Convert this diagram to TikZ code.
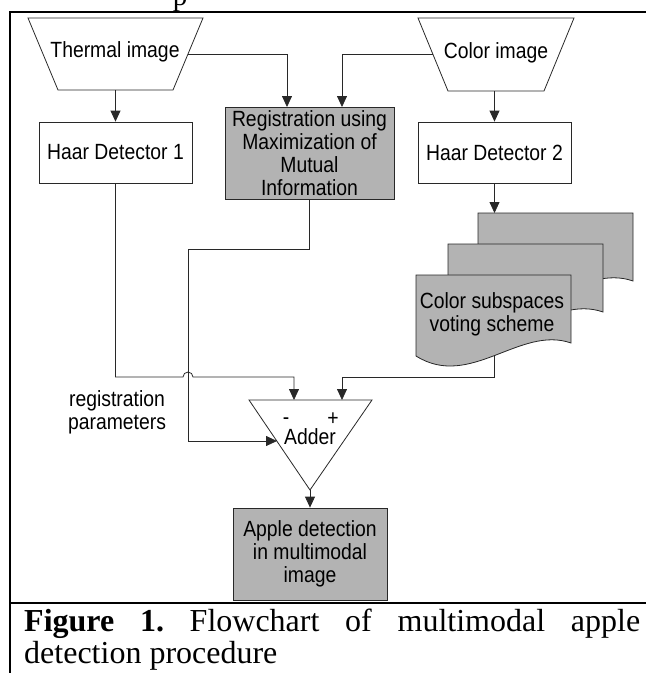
\documentclass[tikz,border=0pt]{standalone}
\usepackage{fontspec}
\setmainfont{Liberation Serif}
\newfontfamily\diagfont[FakeStretch=0.88]{Liberation Sans}
\usetikzlibrary{arrows.meta}
\definecolor{boxgray}{RGB}{179,179,179}
\definecolor{linegray}{RGB}{40,40,40}
\begin{document}
\begin{tikzpicture}[x=1pt,y=-1pt,
  every node/.style={inner sep=0pt},
  txt/.style={font=\diagfont\fontsize{22}{23}\selectfont, align=center},
  plainbox/.style={draw=linegray, line width=0.8pt, fill=white, txt},
  graybox/.style={plainbox, fill=boxgray},
  shapeline/.style={draw=linegray, line width=0.8pt},
  conn/.style={draw=linegray, line width=0.8pt},
  arr/.style={conn, -{Triangle[length=11pt,width=10pt]}},
  frameline/.style={line width=2.6pt, black, line join=miter},
  captxt/.style={font=\fontsize{32}{34}\selectfont},
  pics/docpage/.style={code={\draw[shapeline, fill=boxgray] (0,0) -- (155,0) -- (155,68) .. controls (104,50) and (54,115) .. (0,81) -- cycle;}}
]
\clip (0,0) rectangle (646,673);

% partial text above the frame
\node[anchor=base, font=\fontsize{29}{30}\selectfont] (ptop) at (180,5) {p};

% frame
\draw[frameline] (10,673) -- (10,12) -- (646,12);
\draw[frameline] (10,603) -- (646,603);

% input trapezoids
\draw[shapeline] (28,18) -- (203,18) -- (173,90) -- (58,90) -- cycle;
\node[txt] (thermal) at (115,52) {Thermal image};
\coordinate (thermalB) at (115.5,90);
\coordinate (thermalR) at (188,54);

\draw[shapeline] (418,18) -- (574,18) -- (544,91) -- (448,91) -- cycle;
\node[txt] (color) at (496,53) {Color image};
\coordinate (colorB) at (494.5,91);
\coordinate (colorL) at (433,54);

% boxes
\node[plainbox, minimum width=153pt, minimum height=61pt] (haar1) at (115.5,152.5) {Haar Detector 1};
\node[graybox, minimum width=169pt, minimum height=92pt] (reg) at (309.5,153) {Registration using\\Maximization of\\Mutual\\Information};
\node[plainbox, minimum width=153pt, minimum height=61pt] (haar2) at (494.5,152.5) {Haar Detector 2};
\node[graybox, minimum width=154pt, minimum height=92pt] (apple) at (310,554) {Apple detection\\in multimodal\\image};

% document stack
\pic at (478,213) {docpage};
\pic at (448,244) {docpage};
\pic at (416,275) {docpage};
\node[txt] (vote) at (492,314) {Color subspaces\\voting scheme};
\coordinate (docT) at (494.5,213);
\coordinate (docB) at (494.5,355.5);

% adder
\draw[shapeline, fill=white] (249,400) -- (372,400) -- (310,490) -- cycle;
\node[txt] (adder) at (310,437) {Adder};
\node[txt] (minus) at (286,421) {-};
\node[txt] (plus) at (333,419) {+};
\coordinate (adderIn1) at (294,400);
\coordinate (adderIn2) at (342,400);
\coordinate (adderL) at (277,441);
\coordinate (adderBot) at (310,490);

% label
\node[txt] (regparam) at (117,412) {registration\\parameters};

% connectors
\coordinate (regInL) at (287,107);
\coordinate (regInR) at (342,107);
\coordinate (regTurn) at (188,249);
\coordinate (hopL) at (183,377);
\coordinate (docTurn) at (342,377);

\draw[arr] (thermalB) -- (haar1.north);
\draw[arr] (thermalR) -| (regInL);
\draw[arr] (colorL) -| (regInR);
\draw[arr] (colorB) -- (haar2.north);
\draw[arr] (haar2.south) -- (docT);
\draw[arr] (reg.south) |- (regTurn) |- (adderL);
\draw[arr] (haar1.south) |- (hopL) arc[start angle=180, end angle=360, radius=5] -| (adderIn1);
\draw[arr] (docB) |- (docTurn) -- (adderIn2);
\draw[arr] (adderBot) -- (apple.north);

% caption
\node[anchor=base west, captxt] (cap1) at (24,631)
  {\makebox[616pt]{\textbf{Figure}\hfill\textbf{1.}\hfill Flowchart\hfill of\hfill multimodal\hfill apple}};
\node[anchor=base west, captxt] (cap2) at (24,663) {detection procedure};
\end{tikzpicture}
\end{document}
